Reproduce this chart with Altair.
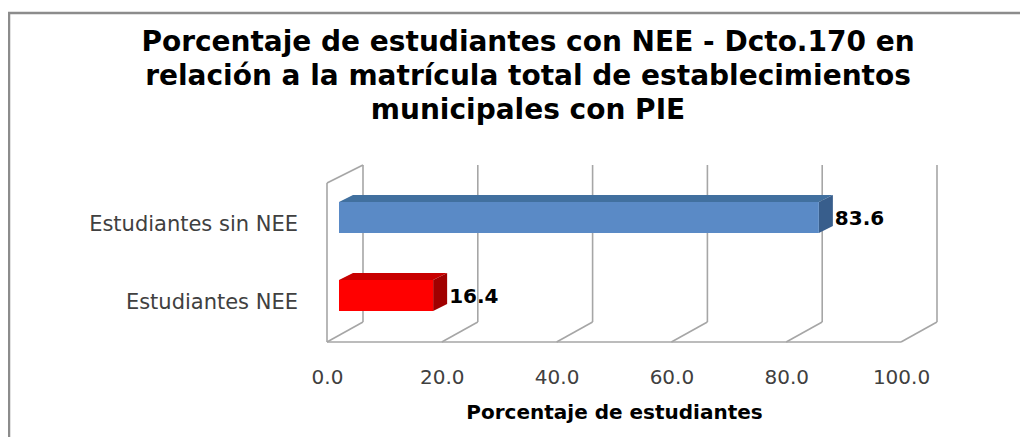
import altair as alt
import pandas as pd

# ---------------- data ----------------
categories = ["Estudiantes NEE", "Estudiantes sin NEE"]
values = [16.4, 83.6]
front_colors = ["#FF0000", "#5A8AC6"]
top_colors = ["#C80000", "#41709F"]
side_colors = ["#A00000", "#385E8C"]
tick_values = [0, 20, 40, 60, 80, 100]
title_lines = [
    "Porcentaje de estudiantes con NEE - Dcto.170 en",
    "relación a la matrícula total de establecimientos",
    "municipales con PIE",
]
x_title = "Porcentaje de estudiantes"

# ---------------- layout constants (pixels) ----------------
PAD_LEFT, PAD_TOP = 0, 4
MARGIN = 8
W, H = 1012, 425
OX, OY = MARGIN + PAD_LEFT, MARGIN + PAD_TOP

X0_PAGE, X100_PAGE = 327, 901
ROW0_PAGE, ROW1_PAGE = 295.5, 217.5
PXX = (X100_PAGE - X0_PAGE) / 100.0
PXY = ROW0_PAGE - ROW1_PAGE


def ux(px):
    return px / PXX


def uy_page(page_y):
    return (ROW0_PAGE - page_y) / PXY


FLOOR_FRONT = uy_page(342)
FLOOR_BACK = uy_page(322)
WALL_TOP = uy_page(165)
LEFT_TOP = uy_page(183)
WALL_DX = ux(36)
BAR_OFF = ux(12)
BAR_HALF = 15.5 / PXY
BAR_DX = ux(14)
BAR_DY = 7 / PXY

xs = alt.Scale(domain=[0, 100], range=[X0_PAGE - OX, X100_PAGE - OX], nice=False, zero=False)
ys = alt.Scale(domain=[0, 1], range=[ROW0_PAGE - OY, ROW1_PAGE - OY], nice=False, zero=False)

FONT = "DejaVu Sans"
xaxis = alt.Axis(
    values=tick_values, format=".1f", title=x_title, grid=False, domain=False,
    ticks=False, tickSize=0, labelPadding=0, offset=-70,
    labelFont=FONT, labelFontSize=20, labelColor="#404040",
    titleFont=FONT, titleFontSize=20, titleFontWeight="bold", titleColor="#000000",
    titlePadding=15, labelFlush=False,
)

# ---------------- geometry tables ----------------
segs = []
for v in tick_values:
    segs.append(dict(x=v + WALL_DX, y=FLOOR_BACK, x2=v + WALL_DX, y2=WALL_TOP))
    segs.append(dict(x=v, y=FLOOR_FRONT, x2=v + WALL_DX, y2=FLOOR_BACK))
segs.append(dict(x=tick_values[0], y=FLOOR_FRONT, x2=tick_values[-1], y2=FLOOR_FRONT))
segs.append(dict(x=0, y=FLOOR_FRONT, x2=0, y2=LEFT_TOP))
segs.append(dict(x=0, y=LEFT_TOP, x2=WALL_DX, y2=WALL_TOP))
segs = pd.DataFrame(segs)

front, top, side, labels = [], [], [], []
for i, (c, v) in enumerate(zip(categories, values)):
    front.append(dict(cat=c, x=BAR_OFF, x2=v + BAR_OFF, y=i - BAR_HALF, y2=i + BAR_HALF, col=front_colors[i]))
    top.append(dict(cat=c, yy=i + BAR_HALF, xa=v + BAR_OFF, xb=BAR_OFF, col=top_colors[i]))
    top.append(dict(cat=c, yy=i + BAR_HALF + BAR_DY, xa=v + BAR_OFF + BAR_DX, xb=BAR_OFF + BAR_DX, col=top_colors[i]))
    side.append(dict(cat=c, xx=v + BAR_OFF, ya=i + BAR_HALF, yb=i - BAR_HALF, col=side_colors[i]))
    side.append(dict(cat=c, xx=v + BAR_OFF + BAR_DX, ya=i + BAR_HALF + BAR_DY, yb=i - BAR_HALF + BAR_DY, col=side_colors[i]))
    labels.append(dict(cat=c, val=v, xl=v + BAR_OFF + BAR_DX, x0=0, y=i))
front = pd.DataFrame(front)
top = pd.DataFrame(top)
side = pd.DataFrame(side)
labels = pd.DataFrame(labels)

# ---------------- layers ----------------
grid = alt.Chart(segs).mark_rule(color="#A6A6A6", strokeWidth=1.6).encode(
    x=alt.X("x:Q", scale=xs, axis=xaxis),
    x2="x2:Q",
    y=alt.Y("y:Q", scale=ys, axis=None),
    y2="y2:Q",
)

top_face = alt.Chart(top).mark_area(orient="horizontal", opacity=1).encode(
    y=alt.Y("yy:Q", scale=ys, axis=None),
    x=alt.X("xa:Q", scale=xs, axis=xaxis, stack=None),
    x2="xb:Q",
    color=alt.Color("col:N", scale=None),
)

side_face = alt.Chart(side).mark_area(orient="vertical", opacity=1).encode(
    x=alt.X("xx:Q", scale=xs, axis=xaxis),
    y=alt.Y("ya:Q", scale=ys, axis=None, stack=None),
    y2="yb:Q",
    color=alt.Color("col:N", scale=None),
)

front_face = alt.Chart(front).mark_rect().encode(
    x=alt.X("x:Q", scale=xs, axis=xaxis),
    x2="x2:Q",
    y=alt.Y("y:Q", scale=ys, axis=None),
    y2="y2:Q",
    color=alt.Color("col:N", scale=None),
)

value_text = alt.Chart(labels).mark_text(
    align="left", baseline="middle", dx=2, dy=1, font=FONT, fontSize=20,
    fontWeight="bold", color="#000000",
).encode(
    x=alt.X("xl:Q", scale=xs, axis=xaxis),
    y=alt.Y("y:Q", scale=ys, axis=None),
    text=alt.Text("val:Q", format=".1f"),
)

cat_text = alt.Chart(labels).mark_text(
    align="right", baseline="middle", dx=-29, dy=7, font=FONT, fontSize=21,
    color="#404040",
).encode(
    x=alt.X("x0:Q", scale=xs, axis=xaxis),
    y=alt.Y("y:Q", scale=ys, axis=None),
    text="cat:N",
)

frame_df = pd.DataFrame({"k": [0]})
frame_left = alt.Chart(frame_df).mark_rule(color="#8C8C8C", strokeWidth=2.5).encode(
    x=alt.value(1), y=alt.value(0), y2=alt.value(H)
)
frame_top = alt.Chart(frame_df).mark_rule(color="#8C8C8C", strokeWidth=2.5).encode(
    x=alt.value(0), x2=alt.value(W), y=alt.value(1)
)

chart = alt.layer(
    grid, top_face, side_face, front_face, value_text, cat_text, frame_left, frame_top
).properties(
    width=W,
    height=H,
    padding={"left": PAD_LEFT, "top": PAD_TOP, "right": 0, "bottom": 0},
    autosize=alt.AutoSizeParams(type="none"),
    title=alt.TitleParams(
        text=title_lines, font=FONT, fontSize=28, fontWeight="bold", color="#000000",
        anchor="middle", frame="group", offset=-114, lineHeight=34, dx=14,
    ),
).configure_view(strokeWidth=0)

chart.save("out.html", embed_options={"renderer": "svg", "actions": False})
